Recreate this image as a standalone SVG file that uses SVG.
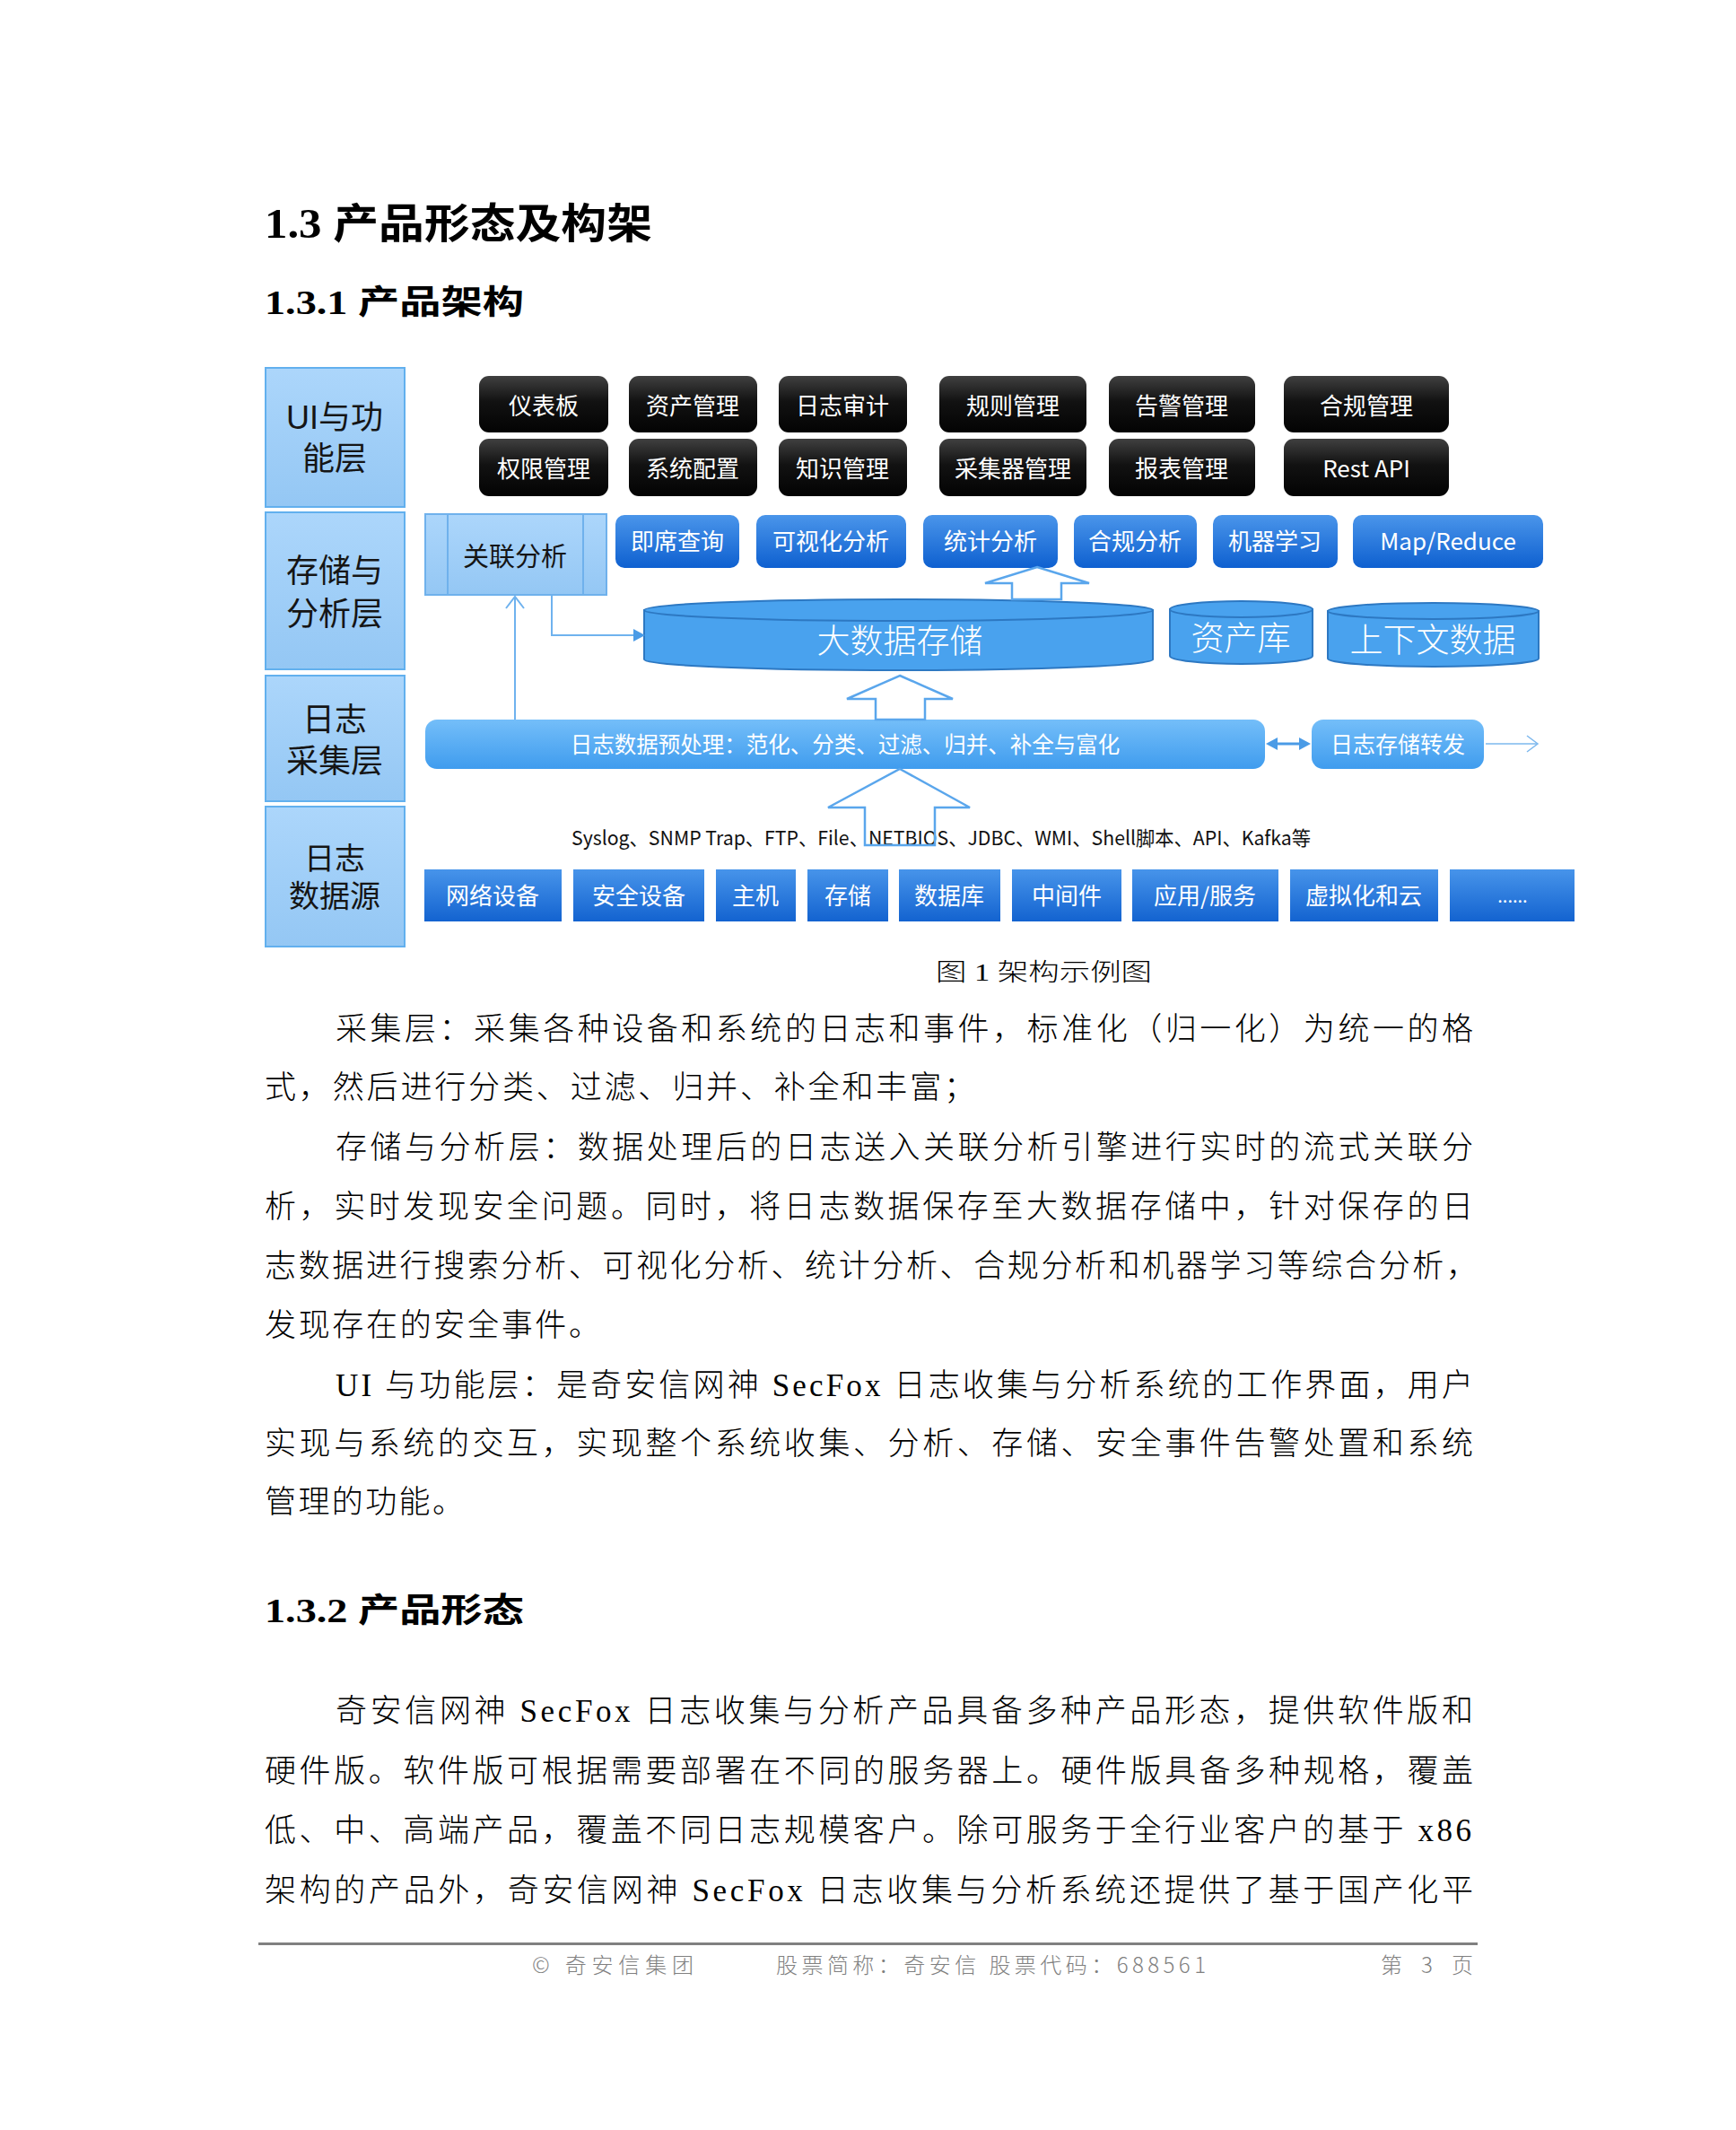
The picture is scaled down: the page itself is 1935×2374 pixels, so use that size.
<svg xmlns="http://www.w3.org/2000/svg" width="1935" height="2374" viewBox="0 0 1935 2374">
<defs>
<linearGradient id="gLabel" x1="0" y1="0" x2="0" y2="1"><stop offset="0" stop-color="#acd6fb"/><stop offset="1" stop-color="#94c7f4"/></linearGradient>
<linearGradient id="gBlack" x1="0" y1="0" x2="0" y2="1"><stop offset="0" stop-color="#404040"/><stop offset="0.45" stop-color="#121212"/><stop offset="1" stop-color="#030303"/></linearGradient>
<linearGradient id="gBlue" x1="0" y1="0" x2="0" y2="1"><stop offset="0" stop-color="#4a95ea"/><stop offset="1" stop-color="#0e60d0"/></linearGradient>
<linearGradient id="gSrc" x1="0" y1="0" x2="0" y2="1"><stop offset="0" stop-color="#4794ea"/><stop offset="1" stop-color="#1363d0"/></linearGradient>
<linearGradient id="gLight" x1="0" y1="0" x2="0" y2="1"><stop offset="0" stop-color="#74bef9"/><stop offset="1" stop-color="#3f9cee"/></linearGradient>
<style>
.lbl{fill:url(#gLabel);stroke:#62b0ee;stroke-width:2}
.lt{font-family:"Noto Sans CJK SC","Noto Sans",sans-serif;font-size:37px;fill:#151515;text-anchor:middle}
.lt2{font-family:"Liberation Sans","Noto Sans CJK SC",sans-serif;font-size:36px;fill:#151515;text-anchor:middle}
.blk{fill:url(#gBlack)}
.wt{font-family:"Noto Sans CJK SC","Noto Sans",sans-serif;font-size:26px;fill:#ffffff;text-anchor:middle}
.ana{fill:url(#gBlue)}
.src{fill:url(#gSrc)}
.lb{fill:url(#gLight)}
.cyl{fill:#49a2ee;stroke:#2d78c2;stroke-width:2}
.ct{font-family:"Noto Sans CJK SC",sans-serif;font-weight:300;font-size:37px;fill:#ffffff;text-anchor:middle}
.barrow{fill:#ffffff;stroke:#5aa6ec;stroke-width:2.5}
.ln{fill:none;stroke:#6fb2ee;stroke-width:2}
.body{font-family:"Liberation Serif","Noto Sans CJK SC",serif;font-weight:300;font-size:35px;fill:#000000}
.h{font-family:"Liberation Serif","Noto Sans CJK SC",serif;font-weight:bold;fill:#000000}
.ft{font-family:"Noto Sans CJK SC","Noto Sans",sans-serif;font-weight:300;font-size:24px;fill:#808080}
</style>
</defs>
<rect width="1935" height="2374" fill="#ffffff"/>

<text class="h" x="295" y="265" font-size="46" textLength="432" lengthAdjust="spacingAndGlyphs">1.3 产品形态及构架</text>
<text class="h" x="295" y="350" font-size="37" textLength="289" lengthAdjust="spacingAndGlyphs">1.3.1 产品架构</text>

<g id="layer-ui"><rect class="lbl" x="296" y="410" width="155" height="155"/><text class="lt2"><tspan x="373" y="478">UI与功</tspan><tspan x="373" y="524">能层</tspan></text></g>
<g id="layer-storage"><rect class="lbl" x="296" y="571" width="155" height="175"/><text class="lt2"><tspan x="373" y="649">存储与</tspan><tspan x="373" y="697">分析层</tspan></text></g>
<g id="layer-collect"><rect class="lbl" x="296" y="753" width="155" height="140"/><text class="lt2"><tspan x="373" y="815">日志</tspan><tspan x="373" y="861">采集层</tspan></text></g>
<g id="layer-source"><rect class="lbl" x="296" y="899" width="155" height="156"/><text class="lt2" style="font-size:34px"><tspan x="373" y="969">日志</tspan><tspan x="373" y="1011">数据源</tspan></text></g>

<g id="ui-dashboard"><rect class="blk" x="534" y="419" width="144" height="63" rx="11"/><text class="wt" x="606" y="462">仪表板</text></g>
<g id="ui-asset"><rect class="blk" x="701" y="419" width="143" height="63" rx="11"/><text class="wt" x="772" y="462">资产管理</text></g>
<g id="ui-audit"><rect class="blk" x="868" y="419" width="143" height="63" rx="11"/><text class="wt" x="939" y="462">日志审计</text></g>
<g id="ui-rule"><rect class="blk" x="1047" y="419" width="164" height="63" rx="11"/><text class="wt" x="1129" y="462">规则管理</text></g>
<g id="ui-alert"><rect class="blk" x="1236" y="419" width="163" height="63" rx="11"/><text class="wt" x="1317" y="462">告警管理</text></g>
<g id="ui-compliance"><rect class="blk" x="1431" y="419" width="184" height="63" rx="11"/><text class="wt" x="1523" y="462">合规管理</text></g>
<g id="ui-permission"><rect class="blk" x="534" y="489" width="144" height="64" rx="11"/><text class="wt" x="606" y="532">权限管理</text></g>
<g id="ui-config"><rect class="blk" x="701" y="489" width="143" height="64" rx="11"/><text class="wt" x="772" y="532">系统配置</text></g>
<g id="ui-knowledge"><rect class="blk" x="868" y="489" width="143" height="64" rx="11"/><text class="wt" x="939" y="532">知识管理</text></g>
<g id="ui-collector"><rect class="blk" x="1047" y="489" width="164" height="64" rx="11"/><text class="wt" x="1129" y="532">采集器管理</text></g>
<g id="ui-report"><rect class="blk" x="1236" y="489" width="163" height="64" rx="11"/><text class="wt" x="1317" y="532">报表管理</text></g>
<g id="ui-restapi"><rect class="blk" x="1431" y="489" width="184" height="64" rx="11"/><text class="wt" x="1523" y="532">Rest API</text></g>

<g id="correlation"><rect x="474" y="573" width="202" height="90" fill="url(#gLabel)" stroke="#6fb1ec" stroke-width="2"/><line x1="499" y1="573" x2="499" y2="663" stroke="#6fb1ec" stroke-width="2"/><line x1="650" y1="573" x2="650" y2="663" stroke="#6fb1ec" stroke-width="2"/><text class="lt" x="574" y="631" style="font-size:29px">关联分析</text></g>
<g id="ana-adhoc"><rect class="ana" x="686" y="574" width="138" height="59" rx="10"/><text class="wt" x="755" y="613">即席查询</text></g>
<g id="ana-visual"><rect class="ana" x="843" y="574" width="167" height="59" rx="10"/><text class="wt" x="926" y="613">可视化分析</text></g>
<g id="ana-stat"><rect class="ana" x="1029" y="574" width="150" height="59" rx="10"/><text class="wt" x="1104" y="613">统计分析</text></g>
<g id="ana-compliance"><rect class="ana" x="1197" y="574" width="137" height="59" rx="10"/><text class="wt" x="1265" y="613">合规分析</text></g>
<g id="ana-ml"><rect class="ana" x="1352" y="574" width="139" height="59" rx="10"/><text class="wt" x="1421" y="613">机器学习</text></g>
<g id="ana-mapreduce"><rect class="ana" x="1508" y="574" width="212" height="59" rx="10"/><text class="wt" x="1614" y="613">Map/Reduce</text></g>

<g id="bigdata"><path class="cyl" d="M718,680 L718,735 A283.5,12 0 0 0 1285,735 L1285,680 Z"/><ellipse class="cyl" cx="1001.5" cy="680" rx="283.5" ry="12"/><text class="ct" x="1003" y="728">大数据存储</text></g>
<g id="assetdb"><path class="cyl" d="M1304,679 L1304,731 A79.5,9 0 0 0 1463,731 L1463,679 Z"/><ellipse class="cyl" cx="1383.5" cy="679" rx="79.5" ry="9"/><text class="ct" x="1383" y="725">资产库</text></g>
<g id="contextdb"><path class="cyl" d="M1480,681 L1480,734 A117.5,9 0 0 0 1715,734 L1715,681 Z"/><ellipse class="cyl" cx="1597.5" cy="681" rx="117.5" ry="9"/><text class="ct" x="1597" y="727">上下文数据</text></g>

<g id="preprocess"><rect class="lb" x="474" y="802" width="936" height="55" rx="13"/><text class="wt" x="942" y="839" style="font-size:24.5px">日志数据预处理：范化、分类、过滤、归并、补全与富化</text></g>
<g id="forward"><rect class="lb" x="1462" y="802" width="192" height="55" rx="13"/><text class="wt" x="1558" y="839" style="font-size:25px">日志存储转发</text></g>

<g id="src-network"><rect class="src" x="473" y="969" width="153" height="58"/><text class="wt" x="549" y="1008">网络设备</text></g>
<g id="src-security"><rect class="src" x="639" y="969" width="146" height="58"/><text class="wt" x="712" y="1008">安全设备</text></g>
<g id="src-host"><rect class="src" x="798" y="969" width="89" height="58"/><text class="wt" x="842" y="1008">主机</text></g>
<g id="src-storage"><rect class="src" x="900" y="969" width="90" height="58"/><text class="wt" x="945" y="1008">存储</text></g>
<g id="src-db"><rect class="src" x="1002" y="969" width="113" height="58"/><text class="wt" x="1058" y="1008">数据库</text></g>
<g id="src-mw"><rect class="src" x="1128" y="969" width="122" height="58"/><text class="wt" x="1189" y="1008">中间件</text></g>
<g id="src-app"><rect class="src" x="1262" y="969" width="163" height="58"/><text class="wt" x="1343" y="1008">应用/服务</text></g>
<g id="src-cloud"><rect class="src" x="1438" y="969" width="165" height="58"/><text class="wt" x="1520" y="1008">虚拟化和云</text></g>
<g id="src-more"><rect class="src" x="1616" y="969" width="139" height="58"/><text class="wt" x="1686" y="1006" style="font-size:20px">......</text></g>

<text x="637" y="942" font-family="'Noto Sans CJK SC','Noto Sans',sans-serif" font-size="22" fill="#111" textLength="824" lengthAdjust="spacingAndGlyphs">Syslog、SNMP Trap、FTP、File、NETBIOS、JDBC、WMI、Shell脚本、API、Kafka等</text>

<g id="connectors">
<polygon class="barrow" points="1156,632 1214,650 1183,650 1183,668 1128,668 1128,650 1098,650"/>
<polygon class="barrow" points="1003,753 1062,779 1031,779 1031,802 976,802 976,779 944,779"/>
<polygon class="barrow" points="1003,857 1081,900 1042,900 1042,942 964,942 964,900 923,900" style="fill:none"/>
<line class="ln" x1="574" y1="802" x2="574" y2="665"/>
<polyline class="ln" points="564,678 574,665 584,678"/>
<polyline class="ln" points="615,663 615,708 708,708"/>
<polygon points="719,708 706,701 706,715" fill="#4a9be6"/>
<line x1="1420" y1="829" x2="1452" y2="829" stroke="#4a9be6" stroke-width="3"/>
<polygon points="1411,829 1424,822 1424,836" fill="#4a9be6"/>
<polygon points="1461,829 1448,822 1448,836" fill="#4a9be6"/>
<line x1="1656" y1="829" x2="1713" y2="829" stroke="#7db8ee" stroke-width="1.5"/>
<polyline points="1702,820 1714,829 1702,838" fill="none" stroke="#7db8ee" stroke-width="1.5"/>
</g>

<text x="1043" y="1093" font-family="'Liberation Serif','Noto Sans CJK SC',serif" font-weight="300" font-size="27" textLength="241" lengthAdjust="spacingAndGlyphs">图 1 架构示例图</text>

<text class="body" x="374" y="1159" textLength="1268" lengthAdjust="spacing">采集层：采集各种设备和系统的日志和事件，标准化（归一化）为统一的格</text>
<text class="body" x="295" y="1224" textLength="792" lengthAdjust="spacing">式，然后进行分类、过滤、归并、补全和丰富；</text>
<text class="body" x="374" y="1291" textLength="1268" lengthAdjust="spacing">存储与分析层：数据处理后的日志送入关联分析引擎进行实时的流式关联分</text>
<text class="body" x="295" y="1357" textLength="1347" lengthAdjust="spacing">析，实时发现安全问题。同时，将日志数据保存至大数据存储中，针对保存的日</text>
<text class="body" x="295" y="1423" textLength="1352" lengthAdjust="spacing">志数据进行搜索分析、可视化分析、统计分析、合规分析和机器学习等综合分析，</text>
<text class="body" x="295" y="1489" textLength="374" lengthAdjust="spacing">发现存在的安全事件。</text>
<text class="body" x="374" y="1556" textLength="1268" lengthAdjust="spacing">UI 与功能层：是奇安信网神 SecFox 日志收集与分析系统的工作界面，用户</text>
<text class="body" x="295" y="1621" textLength="1347" lengthAdjust="spacing">实现与系统的交互，实现整个系统收集、分析、存储、安全事件告警处置和系统</text>
<text class="body" x="295" y="1686" textLength="222" lengthAdjust="spacing">管理的功能。</text>

<text class="h" x="295" y="1808" font-size="37" textLength="289" lengthAdjust="spacingAndGlyphs">1.3.2 产品形态</text>

<text class="body" x="374" y="1919" textLength="1268" lengthAdjust="spacing">奇安信网神 SecFox 日志收集与分析产品具备多种产品形态，提供软件版和</text>
<text class="body" x="295" y="1986" textLength="1347" lengthAdjust="spacing">硬件版。软件版可根据需要部署在不同的服务器上。硬件版具备多种规格，覆盖</text>
<text class="body" x="295" y="2052" textLength="1345" lengthAdjust="spacing">低、中、高端产品，覆盖不同日志规模客户。除可服务于全行业客户的基于 x86</text>
<text class="body" x="295" y="2119" textLength="1347" lengthAdjust="spacing">架构的产品外，奇安信网神 SecFox 日志收集与分析系统还提供了基于国产化平</text>

<rect x="288" y="2165" width="1359" height="3" fill="#808080"/>
<text class="ft" x="593" y="2199" textLength="180" lengthAdjust="spacing">© 奇安信集团</text>
<text class="ft" x="865" y="2199" textLength="479" lengthAdjust="spacing">股票简称：奇安信 股票代码：688561</text>
<text class="ft" x="1539" y="2199" textLength="103" lengthAdjust="spacing">第 3 页</text>
</svg>
